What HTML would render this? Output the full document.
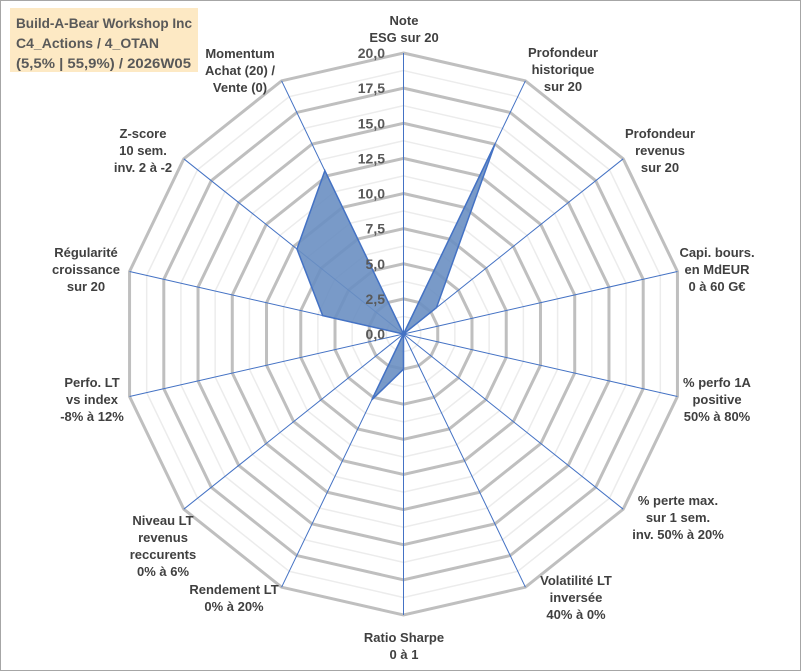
<!DOCTYPE html>
<html><head><meta charset="utf-8"><style>
body{margin:0;background:#fff}
#wrap{position:relative;width:801px;height:671px;overflow:hidden}
svg{position:absolute;left:0;top:0}
.lbl{font-family:"Liberation Sans",sans-serif;font-weight:bold;font-size:13px;fill:#404040}
.tick{font-family:"Liberation Sans",sans-serif;font-weight:bold;font-size:14px;fill:#595959}
.ttl{font-family:"Liberation Sans",sans-serif;font-weight:bold;font-size:14px;fill:#595959}
</style></head><body>
<div id="wrap">
<svg id="chart" width="801" height="671">
<rect x="0.5" y="0.5" width="800" height="670" fill="#fff" stroke="#a6a6a6"/>
<rect x="10" y="8" width="188" height="64" fill="#fde9c4"/>
<text x="16" y="28" class="ttl" textLength="176" lengthAdjust="spacingAndGlyphs">Build-A-Bear Workshop Inc</text>
<text x="16" y="48" class="ttl" textLength="143" lengthAdjust="spacingAndGlyphs">C4_Actions / 4_OTAN</text>
<text x="16" y="68" class="ttl" textLength="175" lengthAdjust="spacingAndGlyphs">(5,5% | 55,9%) / 2026W05</text>
<g id="grid"></g><g id="series"></g><g id="ticks"></g><g id="labels"></g>
</svg></div>
<script>
const categories=[["Note","ESG sur 20"],["Profondeur","historique","sur 20"],["Profondeur","revenus","sur 20"],["Capi. bours.","en MdEUR","0 à 60 G€"],["% perfo 1A","positive","50% à 80%"],["% perte max.","sur 1 sem.","inv. 50% à 20%"],["Volatilité LT","inversée","40% à 0%"],["Ratio Sharpe","0 à 1"],["Rendement LT","0% à 20%"],["Niveau LT","revenus","reccurents","0% à 6%"],["Perfo. LT","vs index","-8% à 12%"],["Régularité","croissance","sur 20"],["Z-score","10 sem.","inv. 2 à -2"],["Momentum","Achat (20) /","Vente (0)"]];
const values=[0,15,3,0,0,0,0,2.5,5.2,0,0,5.9,9.7,12.9];
const tickLabels=["0,0","2,5","5,0","7,5","10,0","12,5","15,0","17,5","20,0"];
const maxVal=20;
const labelPos=[[404,20],[563,52],[660,133],[717,252],[717,382],[678,500],[576,580],[404,637],[234,589],[163,520],[92,382],[86,252],[143,133],[240,53]];
const cx=403.5,cy=334,R=281,N=categories.length,NS="http://www.w3.org/2000/svg";
function ang(i){return i*2*Math.PI/N;}
function pt(i,v){const r=v/maxVal*R;return [cx+r*Math.sin(ang(i)),cy-r*Math.cos(ang(i))];}
function mk(t,a,p){const e=document.createElementNS(NS,t);for(const k in a)e.setAttribute(k,a[k]);p.appendChild(e);return e;}
const grid=document.getElementById('grid');
for(let k=1;k<=16;k++){const v=k*1.25;const pts=[];for(let i=0;i<N;i++)pts.push(pt(i,v).join(','));
const major=k%2===0;const e=mk('polygon',{points:pts.join(' '),fill:'none',stroke:major?'#bfbfbf':'#ececec','stroke-width':major?3:1.5},grid);

}
for(let i=0;i<N;i++){const p=pt(i,maxVal);const e=mk('line',{x1:cx,y1:cy,x2:p[0],y2:p[1],stroke:'#4472c4','stroke-width':1},grid);

}
const ser=document.getElementById('series');
const sp=values.map((v,i)=>pt(i,v).join(',')).join(' ');
const poly=mk('polygon',{points:sp,fill:'#6a8fc2','fill-opacity':0.9,stroke:'#4472c4','stroke-width':1.5},ser);


const tk=document.getElementById('ticks');
tickLabels.forEach((t,k)=>{const y=cy-(k*2.5)/maxVal*R;const e=mk('text',{x:385,y:y+5,'text-anchor':'end',class:'tick'},tk);e.textContent=t;

});
const lb=document.getElementById('labels');
categories.forEach((lines,i)=>{const g=mk('text',{class:'lbl','text-anchor':'middle'},lb);


lines.forEach((l,j)=>{const s=mk('tspan',{x:labelPos[i][0],y:labelPos[i][1]+5+j*17},g);s.textContent=l;});});
</script>
</body></html>
